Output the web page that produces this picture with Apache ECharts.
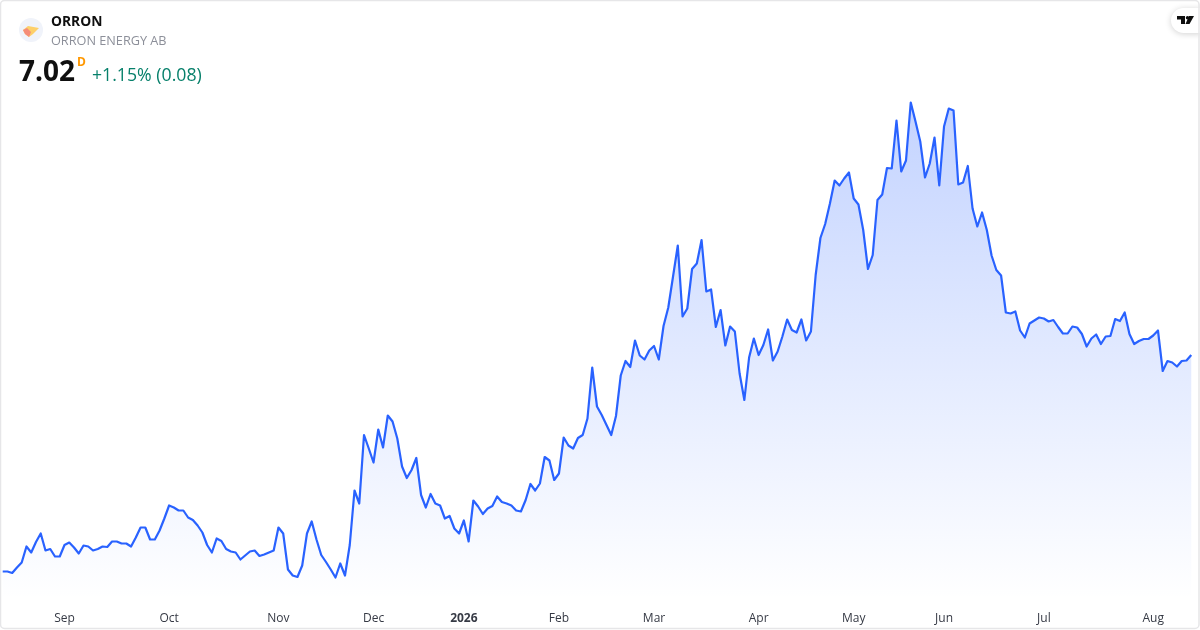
<!DOCTYPE html>
<html><head><meta charset="utf-8">
<style>html,body{margin:0;padding:0;background:#fff}#c{width:1200px;height:630px}</style>
<script src="https://cdn.jsdelivr.net/npm/echarts@6/dist/echarts.min.js"></script>
</head><body><div id="c"></div>
<script>
const symbol = 'ORRON';
const company = 'ORRON ENERGY AB';
const lastPrice = '7.02';
const changeText = '+1.15% (0.08)';
const prices = [
2.69,2.69,2.66,2.77,2.87,3.19,3.07,3.28,3.45,3.11,3.14,2.99,2.99,3.22,3.27,3.17,3.05,3.21,3.19,3.11,
3.14,3.19,3.18,3.29,3.29,3.25,3.25,3.19,3.37,3.57,3.57,3.33,3.33,3.51,3.75,4.01,3.97,3.91,3.91,3.77,
3.72,3.61,3.47,3.22,3.07,3.35,3.30,3.14,3.09,3.07,2.93,3.01,3.09,3.11,3.00,3.03,3.07,3.11,3.57,3.45,
2.73,2.61,2.58,2.81,3.45,3.69,3.33,3.02,2.88,2.73,2.57,2.85,2.61,3.22,4.31,4.05,5.42,5.15,4.87,5.53,
5.17,5.81,5.69,5.35,4.79,4.56,4.72,4.96,4.22,3.97,4.24,4.05,4.01,3.75,3.80,3.55,3.45,3.71,3.29,4.11,
3.99,3.84,3.95,4.00,4.19,4.08,4.05,4.01,3.91,3.89,4.12,4.44,4.31,4.45,4.98,4.91,4.52,4.65,5.37,5.21,
5.15,5.36,5.42,5.75,6.77,5.99,5.82,5.62,5.42,5.80,6.61,6.90,6.78,7.31,7.01,6.93,7.11,7.20,6.93,7.60,
7.97,8.59,9.21,7.79,7.95,8.74,8.85,9.32,8.29,8.33,7.58,7.92,7.21,7.59,7.49,6.65,6.12,6.97,7.35,7.02,
7.22,7.53,6.91,7.09,7.39,7.73,7.52,7.47,7.73,7.31,7.49,8.62,9.36,9.64,10.05,10.51,10.41,10.55,10.67,10.15,
10.03,9.52,8.74,9.02,10.12,10.23,10.76,10.75,11.71,10.69,10.91,12.07,11.69,11.29,10.57,10.85,11.37,10.41,11.59,11.95,
11.91,10.43,10.47,10.80,9.95,9.59,9.87,9.52,9.01,8.72,8.61,7.87,7.85,7.89,7.51,7.37,7.65,7.71,7.77,7.75,
7.69,7.72,7.58,7.45,7.45,7.59,7.57,7.44,7.19,7.35,7.43,7.24,7.39,7.40,7.74,7.70,7.87,7.44,7.24,7.30,
7.34,7.34,7.41,7.51,6.70,6.90,6.87,6.79,6.90,6.91,7.02];
const tickLabels = ['Sep','Oct','Nov','Dec','2026','Feb','Mar','Apr','May','Jun','Jul','Aug'];
const tickSessions = [13,35,58,78,97,117,137,159,179,198,219,242];

const categories = prices.map((_, i) => {
  const t = tickSessions.indexOf(i);
  return t >= 0 ? tickLabels[t] : '';
});
const font = '"Open Sans", "Noto Sans", sans-serif';
const chart = echarts.init(document.getElementById('c'), null, {renderer: 'canvas'});
chart.setOption({
  animation: false,
  backgroundColor: '#ffffff',
  grid: {left: 2.7, right: 8.75, top: 0, bottom: 30, containLabel: false},
  xAxis: {
    type: 'category', data: categories, boundaryGap: false,
    axisLine: {show: false}, axisTick: {show: false}, splitLine: {show: false},
    axisLabel: {
      interval: (i, v) => v !== '', margin: 13, fontFamily: font, fontSize: 12, color: '#363a45',
      formatter: v => v === '2026' ? '{y|2026}' : v,
      rich: {y: {fontFamily: font, fontSize: 12, fontWeight: 'bold', color: '#363a45'}}
    }
  },
  yAxis: {type: 'value', min: 2.12, max: 14.12, show: false},
  series: [{
    type: 'line', data: prices, symbol: 'none', smooth: false, silent: true,
    lineStyle: {color: '#2962ff', width: 2.2, join: 'round'},
    areaStyle: {opacity: 1, origin: 'start', color: new echarts.graphic.LinearGradient(0, 0, 0, 1, [
      {offset: 0, color: 'rgba(41,98,255,0.28)'},
      {offset: 1, color: 'rgba(41,98,255,0)'}
    ])}
  }],
  graphic: [
    {type: 'rect', silent: true, z: 100, shape: {x: 0.5, y: 0.5, width: 1198.5, height: 628, r: 4}, style: {fill: 'none', stroke: '#e6e6e8', lineWidth: 1.5}},
    {type: 'circle', shape: {cx: 31, cy: 30, r: 12}, style: {fill: '#f0f3fa'}},
    {type: 'polygon', shape: {points: [[23,30],[28,26],[39,28],[33,34],[29,37],[25,34]]}, style: {fill: '#fdd06a'}},
    {type: 'polygon', shape: {points: [[23,30],[27,28],[31,32],[29,37],[25,34]]}, style: {fill: '#f58c78'}},
    {type: 'text', left: 51, top: 15, style: {text: symbol, font: 'bold 13.8px ' + font, fill: '#0f0f0f'}},
    {type: 'text', left: 51, top: 35, style: {text: company, font: '12.7px ' + font, fill: '#8c8f99'}},
    {type: 'text', left: 19, top: 59, style: {text: lastPrice, font: 'bold 28px ' + font, fill: '#0f0f0f'}},
    {type: 'text', left: 77, top: 57, style: {text: 'D', font: 'bold 12px ' + font, fill: '#ff9800'}},
    {type: 'text', left: 92, top: 67, style: {text: changeText, font: '17.7px ' + font, fill: '#07806b'}},
    {type: 'rect', shape: {x: 1171, y: 8, width: 40, height: 25, r: 12.5}, style: {fill: '#ffffff', shadowBlur: 6, shadowColor: 'rgba(0,0,0,0.18)', shadowOffsetY: 1}},
    {type: 'polygon', shape: {points: [[1177,16],[1185,16],[1185,24],[1181,24],[1181,19.5],[1177,19.5]]}, style: {fill: '#0f0f0f'}},
    {type: 'polygon', shape: {points: [[1189,16],[1194,16],[1189.5,24],[1185.5,24]]}, style: {fill: '#0f0f0f'}},
    {type: 'circle', shape: {cx: 1187.5, cy: 17.7, r: 1.7}, style: {fill: '#0f0f0f'}}
  ]
});
</script></body></html>
